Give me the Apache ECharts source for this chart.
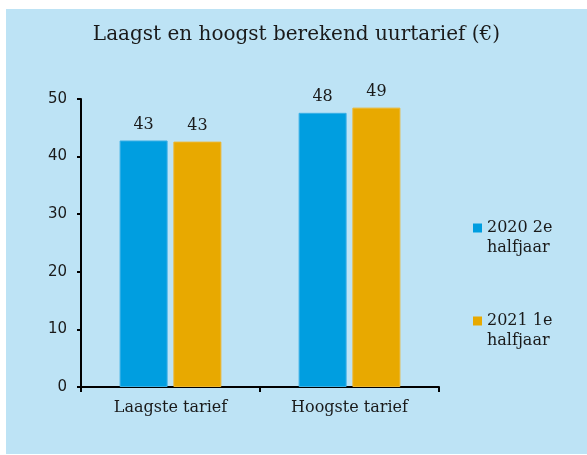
<!DOCTYPE html>
<html>
<head>
<meta charset="utf-8">
<script src="https://cdn.jsdelivr.net/npm/echarts@6/dist/echarts.min.js"></script>
<style>
  html, body { margin: 0; padding: 0; background: #fff; }
  #wrap { position: absolute; left: 6px; top: 9px; width: 581px; height: 445px; background: #BDE3F5; }
  #chart { width: 581px; height: 445px; }
</style>
</head>
<body>
<div id="wrap"><div id="chart"></div></div>
<script>
var categories = ['Laagste tarief', 'Hoogste tarief'];
var seriesNames = ['2020 2e\nhalfjaar', '2021 1e\nhalfjaar'];
var half2020 = [42.8, 47.6];
var half2021 = [42.6, 48.5];
var yTicks = { min: 0, max: 50, interval: 10 };

var myChart = echarts.init(document.getElementById('chart'));
var serif = 'DejaVu Serif';
var ink = '#1a1a1a';

function barLabel() {
  return {
    show: true,
    position: 'top',
    distance: 8,
    fontFamily: serif,
    fontSize: 16,
    color: ink,
    formatter: function (p) { return Math.round(p.value); }
  };
}

var option = {
  animation: false,
  title: {
    text: 'Laagst en hoogst berekend uurtarief (€)',
    left: 'center',
    top: 16,
    padding: 0,
    textStyle: { fontFamily: serif, fontSize: 20, fontWeight: 'normal', color: ink }
  },
  legend: {
    orient: 'vertical',
    left: 467,
    top: 189,
    padding: 0,
    itemWidth: 9,
    itemHeight: 9,
    itemGap: 33,
    icon: 'rect',
    itemStyle: { borderWidth: 0 },
    // blank first line keeps the swatch level with the first text line
    formatter: function (name) { return '\n' + name; },
    textStyle: { fontFamily: serif, fontSize: 16, lineHeight: 20, color: ink },
    data: seriesNames
  },
  grid: { left: 75, right: 148, top: 90, bottom: 67 },
  xAxis: {
    type: 'category',
    data: categories,
    axisLine: { lineStyle: { color: '#000', width: 2 } },
    axisTick: { show: true, length: 5, lineStyle: { color: '#000', width: 2 } },
    axisLabel: { fontFamily: serif, fontSize: 16, color: ink, margin: 13 }
  },
  yAxis: {
    type: 'value',
    min: yTicks.min,
    max: yTicks.max,
    interval: yTicks.interval,
    splitLine: { show: false },
    axisLine: { show: true, lineStyle: { color: '#000', width: 2 } },
    axisTick: { show: true, length: 4, lineStyle: { color: '#000', width: 2 } },
    axisLabel: { fontFamily: 'DejaVu Sans', fontSize: 15, color: ink, margin: 14 }
  },
  series: [
    {
      name: seriesNames[0],
      type: 'bar',
      data: half2020,
      barWidth: 48,
      barGap: '12%',
      itemStyle: { color: '#009EE0', borderColor: '#3AB0E6', borderWidth: 1 },
      label: barLabel()
    },
    {
      name: seriesNames[1],
      type: 'bar',
      data: half2021,
      barWidth: 48,
      itemStyle: { color: '#E8A900', borderColor: '#EDB62E', borderWidth: 1 },
      label: barLabel()
    }
  ]
};
myChart.setOption(option);
window.addEventListener('resize', function () {
  myChart.resize();
});
</script>
</body>
</html>
